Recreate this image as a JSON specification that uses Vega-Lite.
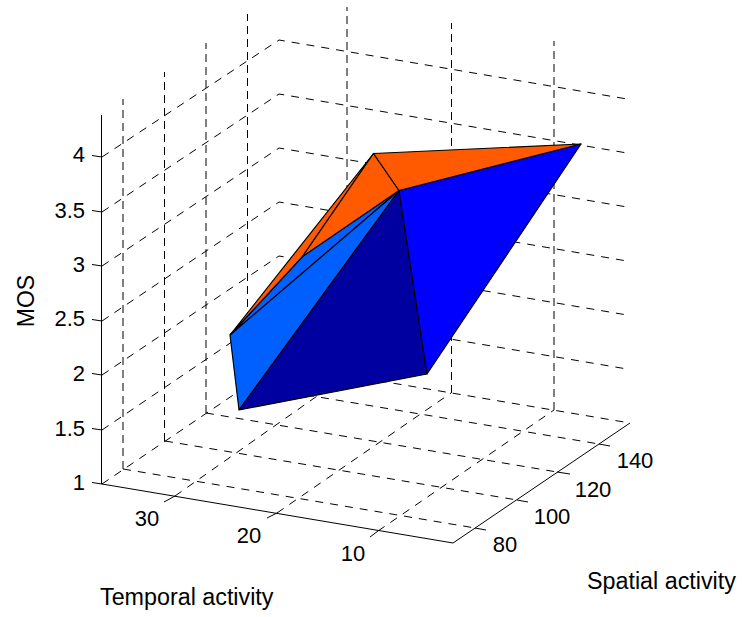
{
"$schema":"https://vega.github.io/schema/vega-lite/v6.json",
"width":742,"height":617,"autosize":{"type":"fit","contains":"padding"},"padding":0,
"background":"white","view":{"stroke":null},
"datasets":{
"grid":[
{"line":"z4","seq":1,"x":102,"y":157},{"line":"z4","seq":2,"x":279,"y":40},{"line":"z4","seq":3,"x":630,"y":99.5},
{"line":"z35","seq":1,"x":102,"y":212},{"line":"z35","seq":2,"x":279,"y":94},{"line":"z35","seq":3,"x":630,"y":153.5},
{"line":"z3","seq":1,"x":102,"y":266},{"line":"z3","seq":2,"x":279,"y":148},{"line":"z3","seq":3,"x":630,"y":207.5},
{"line":"z25","seq":1,"x":102,"y":321},{"line":"z25","seq":2,"x":279,"y":202},{"line":"z25","seq":3,"x":630,"y":261.5},
{"line":"z2","seq":1,"x":102,"y":375},{"line":"z2","seq":2,"x":279,"y":256},{"line":"z2","seq":3,"x":630,"y":315.5},
{"line":"z15","seq":1,"x":102,"y":430},{"line":"z15","seq":2,"x":279,"y":310},{"line":"z15","seq":3,"x":630,"y":369.5},
{"line":"z1","seq":1,"x":102,"y":484},{"line":"z1","seq":2,"x":279,"y":364},{"line":"z1","seq":3,"x":630,"y":423},
{"line":"fs80","seq":1,"x":123,"y":469},{"line":"fs80","seq":2,"x":475,"y":528},
{"line":"fs100","seq":1,"x":165,"y":441},{"line":"fs100","seq":2,"x":517,"y":500},
{"line":"fs120","seq":1,"x":206,"y":413},{"line":"fs120","seq":2,"x":557,"y":472},
{"line":"fs140","seq":1,"x":247,"y":385},{"line":"fs140","seq":2,"x":599,"y":444},
{"line":"ft30","seq":1,"x":175,"y":496},{"line":"ft30","seq":2,"x":347,"y":375},
{"line":"ft20","seq":1,"x":277,"y":513},{"line":"ft20","seq":2,"x":451,"y":393},
{"line":"ft10","seq":1,"x":378,"y":531},{"line":"ft10","seq":2,"x":554,"y":410}
],
"vgrid":[
{"line":"vs80","seq":2,"x":123,"y":99},{"line":"vs80","seq":1,"x":123,"y":469},
{"line":"vs100","seq":2,"x":164.5,"y":72},{"line":"vs100","seq":1,"x":164.5,"y":441},
{"line":"vs120","seq":2,"x":206,"y":43},{"line":"vs120","seq":1,"x":206,"y":413},
{"line":"vs140","seq":2,"x":247.5,"y":14},{"line":"vs140","seq":1,"x":247.5,"y":385},
{"line":"vt30","seq":2,"x":347,"y":7},{"line":"vt30","seq":1,"x":347,"y":375},
{"line":"vt20","seq":2,"x":451.5,"y":23},{"line":"vt20","seq":1,"x":451.5,"y":393},
{"line":"vt10","seq":2,"x":554,"y":41},{"line":"vt10","seq":1,"x":554,"y":410}
],
"axes":[
{"line":"zaxis","seq":1,"x":101.5,"y":115},{"line":"zaxis","seq":2,"x":101.5,"y":484},
{"line":"taxis","seq":1,"x":102,"y":484},{"line":"taxis","seq":2,"x":453,"y":543},
{"line":"saxis","seq":1,"x":453,"y":543},{"line":"saxis","seq":2,"x":630,"y":423},
{"line":"tz4","seq":1,"x":92,"y":155.5},{"line":"tz4","seq":2,"x":102,"y":157},
{"line":"tz35","seq":1,"x":92,"y":210.5},{"line":"tz35","seq":2,"x":102,"y":212},
{"line":"tz3","seq":1,"x":92,"y":264.5},{"line":"tz3","seq":2,"x":102,"y":266},
{"line":"tz25","seq":1,"x":92,"y":319.5},{"line":"tz25","seq":2,"x":102,"y":321},
{"line":"tz2","seq":1,"x":92,"y":373.5},{"line":"tz2","seq":2,"x":102,"y":375},
{"line":"tz15","seq":1,"x":92,"y":428.5},{"line":"tz15","seq":2,"x":102,"y":430},
{"line":"tz1","seq":1,"x":92,"y":482.5},{"line":"tz1","seq":2,"x":102,"y":484},
{"line":"ts80","seq":1,"x":475,"y":528},{"line":"ts80","seq":2,"x":486,"y":530},
{"line":"ts100","seq":1,"x":517,"y":500},{"line":"ts100","seq":2,"x":528,"y":502},
{"line":"ts120","seq":1,"x":557,"y":472},{"line":"ts120","seq":2,"x":570,"y":474},
{"line":"ts140","seq":1,"x":599,"y":444},{"line":"ts140","seq":2,"x":610,"y":446},
{"line":"tt30","seq":1,"x":175,"y":496},{"line":"tt30","seq":2,"x":164,"y":502},
{"line":"tt20","seq":1,"x":277,"y":513},{"line":"tt20","seq":2,"x":267,"y":518},
{"line":"tt10","seq":1,"x":378,"y":531},{"line":"tt10","seq":2,"x":370,"y":537}
],
"faces":[
{"face":"a","level":"mid","seq":1,"x":230,"y":335},{"face":"a","level":"mid","seq":2,"x":399,"y":190.5},{"face":"a","level":"mid","seq":3,"x":302.5,"y":256.5},{"face":"a","level":"mid","seq":4,"x":230,"y":335},
{"face":"b","level":"mid","seq":1,"x":230,"y":335},{"face":"b","level":"mid","seq":2,"x":239,"y":410},{"face":"b","level":"mid","seq":3,"x":399,"y":190.5},{"face":"b","level":"mid","seq":4,"x":230,"y":335},
{"face":"c","level":"low","seq":1,"x":239,"y":410},{"face":"c","level":"low","seq":2,"x":427,"y":374},{"face":"c","level":"low","seq":3,"x":399,"y":190.5},{"face":"c","level":"low","seq":4,"x":239,"y":410},
{"face":"d","level":"base","seq":1,"x":399,"y":190.5},{"face":"d","level":"base","seq":2,"x":427,"y":374},{"face":"d","level":"base","seq":3,"x":581,"y":144},{"face":"d","level":"base","seq":4,"x":399,"y":190.5},
{"face":"e","level":"high","seq":1,"x":230,"y":335},{"face":"e","level":"high","seq":2,"x":373.5,"y":153.5},{"face":"e","level":"high","seq":3,"x":302.5,"y":256.5},{"face":"e","level":"high","seq":4,"x":230,"y":335},
{"face":"f","level":"high","seq":1,"x":302.5,"y":256.5},{"face":"f","level":"high","seq":2,"x":373.5,"y":153.5},{"face":"f","level":"high","seq":3,"x":399,"y":190.5},{"face":"f","level":"high","seq":4,"x":302.5,"y":256.5},
{"face":"g","level":"high","seq":1,"x":373.5,"y":153.5},{"face":"g","level":"high","seq":2,"x":581,"y":144},{"face":"g","level":"high","seq":3,"x":399,"y":190.5},{"face":"g","level":"high","seq":4,"x":373.5,"y":153.5}
],
"zlabels":[
{"t":"4","x":85,"y":162},{"t":"3.5","x":85,"y":218},{"t":"3","x":85,"y":272},{"t":"2.5","x":85,"y":326},{"t":"2","x":85,"y":381},{"t":"1.5","x":85,"y":436},{"t":"1","x":85,"y":490}
],
"clabels":[
{"t":"30","x":147,"y":526},{"t":"20","x":249,"y":543},{"t":"10","x":353,"y":561},
{"t":"80","x":505,"y":552},{"t":"100","x":552,"y":524},{"t":"120","x":593,"y":497},{"t":"140","x":635,"y":468}
],
"titles":[{"t":"Temporal activity","x":100,"y":605},{"t":"Spatial activity","x":587,"y":589}],
"ztitle":[{"t":"MOS","x":34,"y":301}]
},
"encoding":{
"x":{"field":"x","type":"quantitative","scale":{"domain":[0,742],"nice":false,"zero":false},"axis":null},
"y":{"field":"y","type":"quantitative","scale":{"domain":[617,0],"nice":false,"zero":false},"axis":null}
},
"layer":[
{"data":{"name":"grid"},"mark":{"type":"line","stroke":"black","strokeWidth":1,"strokeDash":[8,7]},
 "encoding":{"detail":{"field":"line"},"order":{"field":"seq"}}},
{"data":{"name":"vgrid"},"mark":{"type":"line","stroke":"black","strokeWidth":1,"strokeDash":[8,5]},
 "encoding":{"detail":{"field":"line"},"order":{"field":"seq"}}},
{"data":{"name":"faces"},"mark":{"type":"line","stroke":"black","strokeWidth":1.2,"strokeJoin":"round"},
 "encoding":{"detail":{"field":"face"},"order":{"field":"seq"},
 "fill":{"field":"level","type":"nominal","legend":null,"scale":{"domain":["high","mid","low","base"],"range":["#FF5A00","#005FFF","#0000A0","#0000FF"]}}}},
{"data":{"name":"axes"},"mark":{"type":"line","stroke":"black","strokeWidth":1},
 "encoding":{"detail":{"field":"line"},"order":{"field":"seq"}}},
{"data":{"name":"zlabels"},"mark":{"type":"text","align":"right","baseline":"alphabetic","font":"Liberation Sans","fontSize":22,"fill":"black"},"encoding":{"text":{"field":"t"}}},
{"data":{"name":"clabels"},"mark":{"type":"text","align":"center","baseline":"alphabetic","font":"Liberation Sans","fontSize":22,"fill":"black"},"encoding":{"text":{"field":"t"}}},
{"data":{"name":"titles"},"mark":{"type":"text","align":"left","baseline":"alphabetic","font":"Liberation Sans","fontSize":23.3,"fill":"black"},"encoding":{"text":{"field":"t"}}},
{"data":{"name":"ztitle"},"mark":{"type":"text","align":"center","baseline":"alphabetic","angle":270,"font":"Liberation Sans","fontSize":23,"fill":"black"},"encoding":{"text":{"field":"t"}}}
]
}
